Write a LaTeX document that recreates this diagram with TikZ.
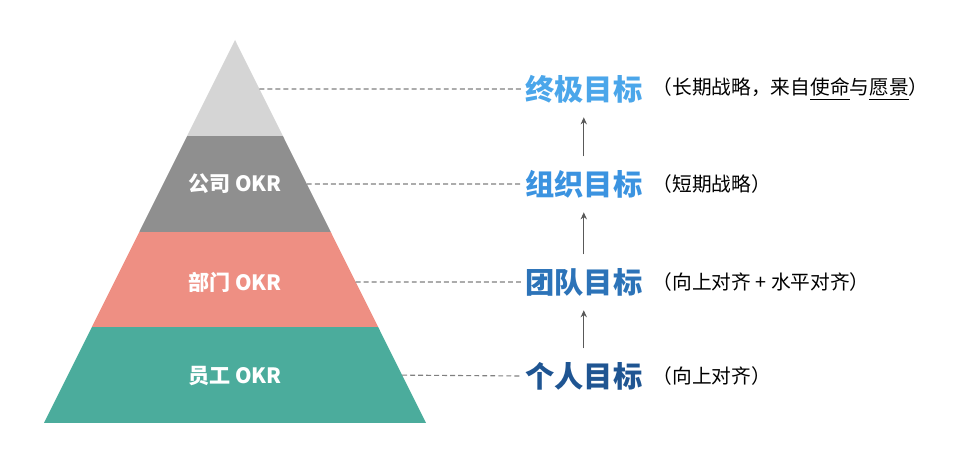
\documentclass[tikz,border=0pt]{standalone}
\usepackage{fontspec}
\setmainfont{Noto Sans CJK SC}
\usepackage{tikz}
\usetikzlibrary{arrows.meta, positioning, calc}
\definecolor{okrTop}{HTML}{D5D5D5}
\definecolor{okrCompany}{HTML}{8F8F8F}
\definecolor{okrDept}{HTML}{EE8F83}
\definecolor{okrStaff}{HTML}{4BAC9C}
\definecolor{goalA}{HTML}{4BA6EA}
\definecolor{goalB}{HTML}{3B93E0}
\definecolor{goalC}{HTML}{2C73B8}
\definecolor{goalD}{HTML}{1F5592}
\colorlet{dashgray}{black!50}
\colorlet{arrowgray}{black!65}
\newcommand{\keyword}[1]{\underline{#1\rule[-2.5pt]{0pt}{1pt}}}

\begin{document}
\begin{tikzpicture}[x=0.025cm, y=-0.025cm,
    level/.style={font=\fontsize{15}{18}\selectfont\bfseries, text=white, inner sep=0pt},
    goal/.style={font=\fontsize{20.8}{24}\selectfont\bfseries, inner sep=0pt, anchor=west},
    note/.style={font=\fontsize{14}{17}\selectfont, inner sep=0pt, right=0.25cm of #1},
    guide/.style={dashgray, line width=0.8pt, dash pattern=on 3.5pt off 2.2pt},
    climb/.style={-{Stealth[length=5pt, width=4.5pt]}, arrowgray, line width=1pt,
      shorten <=9.5pt, shorten >=10pt}]
  \useasboundingbox (0,0) rectangle (968,452);

  % Pyramid
  \coordinate (apex) at (235,40);
  \coordinate (bl) at (44,423);
  \coordinate (br) at (426,423);
  \begin{scope}
    \clip (apex) -- (br) -- (bl) -- cycle;
    \fill[okrTop] (0,30) rectangle (468,136);
    \fill[okrCompany] (0,136) rectangle (468,232);
    \fill[okrDept] (0,232) rectangle (468,327);
    \fill[okrStaff] (0,327) rectangle (468,423);
  \end{scope}

  \node[level] (company) at (235,184) {公司 OKR};
  \node[level] (dept) at (235,282) {部门 OKR};
  \node[level] (staff) at (235,376) {员工 OKR};

  % Edge points for the guide lines
  \coordinate (e1) at ($(apex)!0.128!(br)$);
  \coordinate (e2) at ($(apex)!0.376!(br)$);
  \coordinate (e3) at ($(apex)!0.632!(br)$);
  \coordinate (e4) at ($(apex)!0.875!(br)$);

  % Goals
  \node[goal, text=goalA] (final) at (525,89) {终极目标};
  \node[goal, text=goalB] (org) at (525,184) {组织目标};
  \node[goal, text=goalC] (team) at (525,282) {团队目标};
  \node[goal, text=goalD] (person) at (525,376) {个人目标};

  \node[note=final] (finalnote) {（长期战略，来自\keyword{使命}与\keyword{愿景}）};
  \node[note=org] (orgnote) {（短期战略）};
  \node[note=team] (teamnote) {（向上对齐 + 水平对齐）};
  \node[note=person] (personnote) {（向上对齐）};

  \draw[guide] (e1) -- ([xshift=-3pt]final.west);
  \draw[guide] (e2) -- ([xshift=-3pt]org.west);
  \draw[guide] (e3) -- ([xshift=-3pt]team.west);
  \draw[guide] (e4) -- ([xshift=-3pt]person.west);

  \draw[climb] (org) -- (final);
  \draw[climb] (team) -- (org);
  \draw[climb] (person) -- (team);
\end{tikzpicture}
\end{document}
